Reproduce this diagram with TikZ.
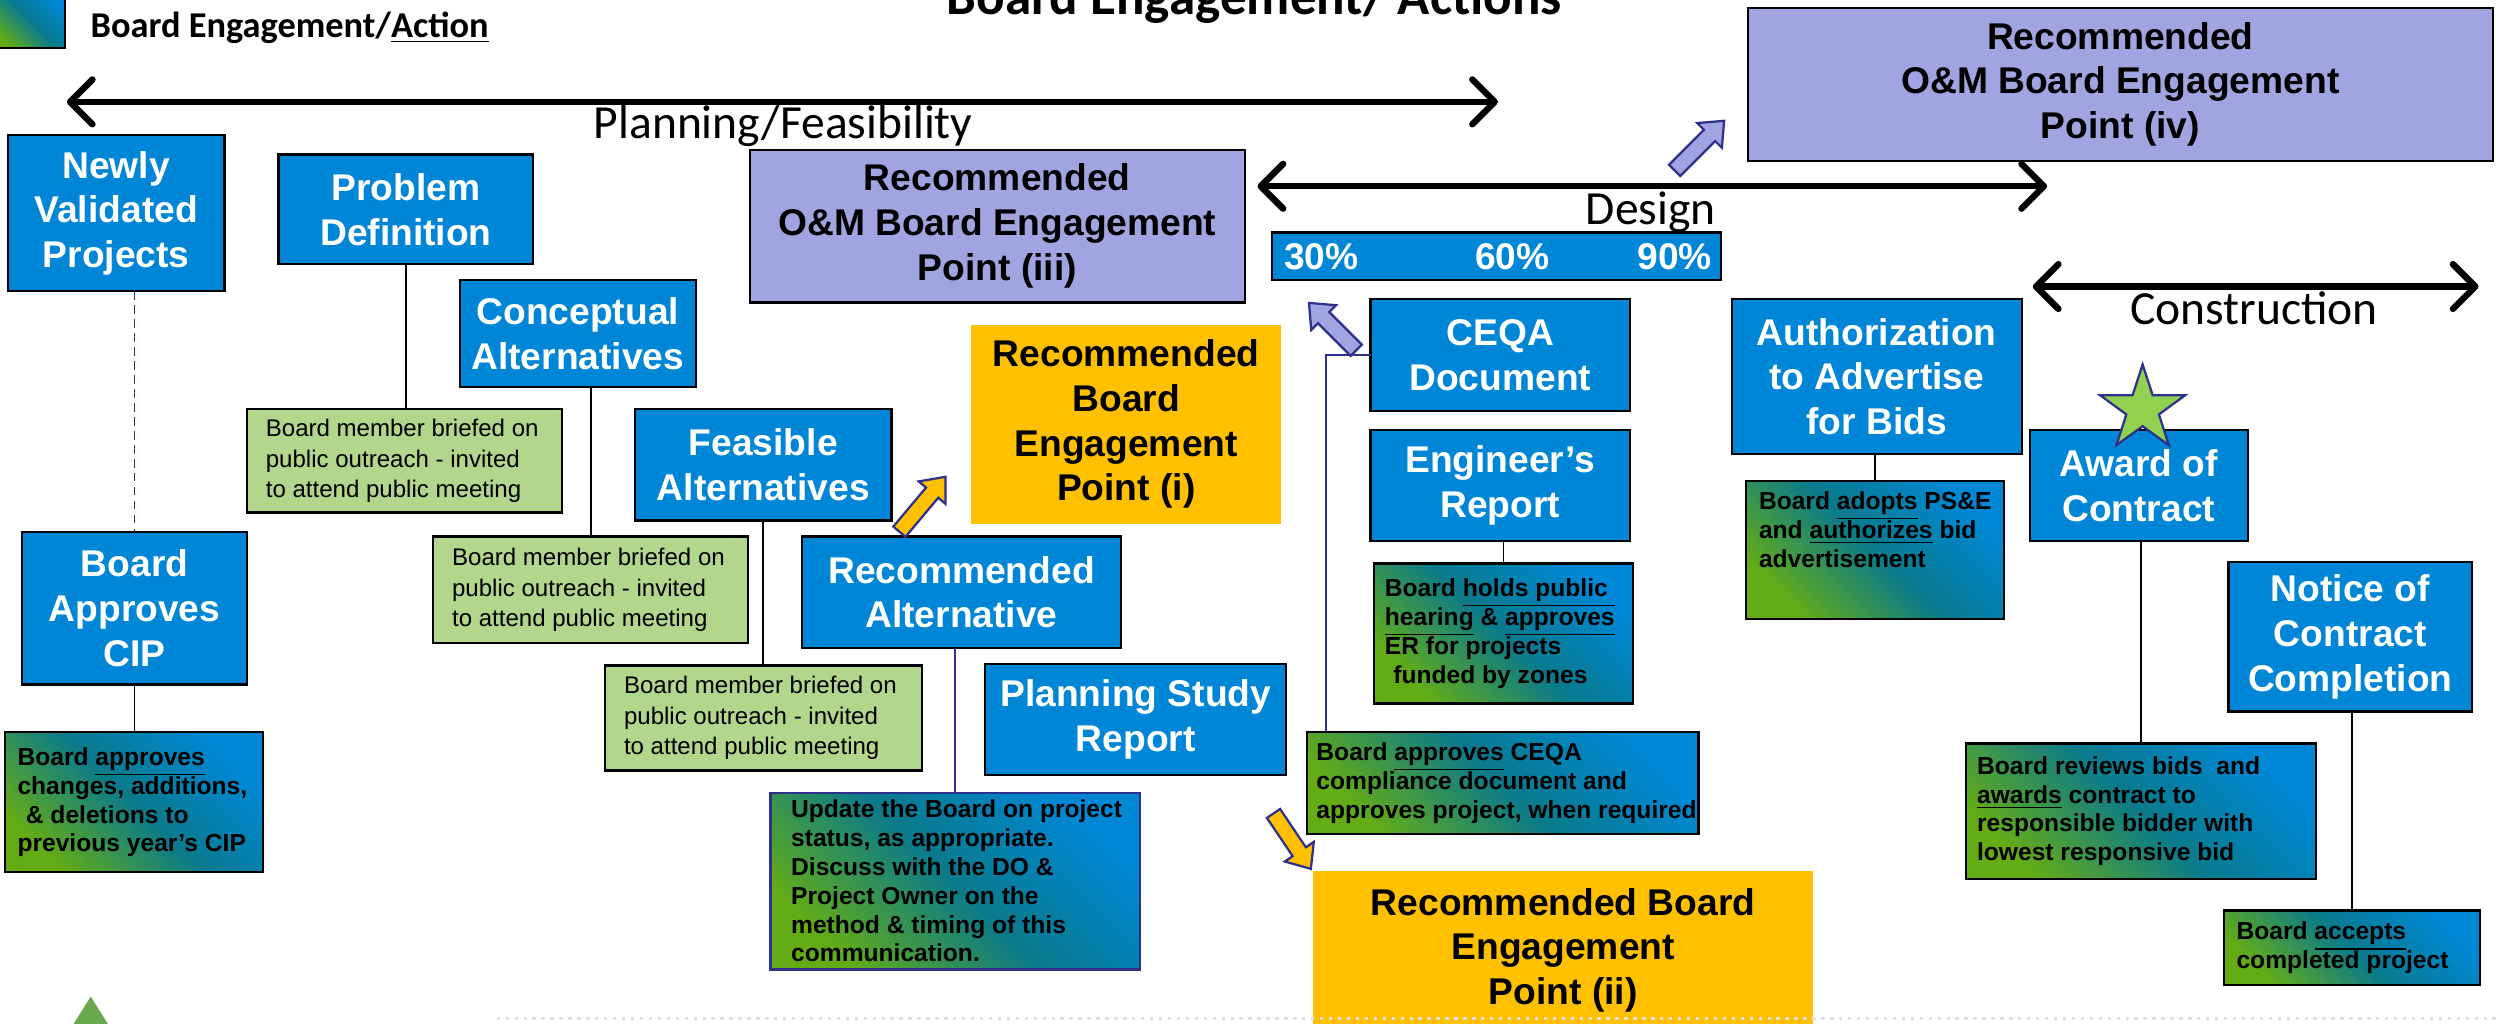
\documentclass[tikz,border=0pt]{standalone}
\usepackage{fontspec}
\setmainfont{Liberation Sans}
\newfontfamily\carl{Carlito}
\usetikzlibrary{arrows.meta,shapes.geometric}
\definecolor{bblue}{RGB}{0,134,214}
\definecolor{ppl}{RGB}{160,164,224}
\definecolor{org}{RGB}{255,192,0}
\definecolor{lgrn}{RGB}{178,214,140}
\definecolor{gA}{RGB}{100,172,22}
\definecolor{gB}{RGB}{10,122,140}
\definecolor{gC}{RGB}{0,136,214}
\definecolor{navy}{RGB}{46,49,140}
\definecolor{starg}{RGB}{146,208,80}
\definecolor{trig}{RGB}{106,168,79}
\newcommand\fbig{\fontsize{13.3pt}{16pt}\selectfont\bfseries}
\newcommand\fgrad{\fontsize{8.8pt}{10.3pt}\selectfont\bfseries}
\newcommand\flgr{\fontsize{8.6pt}{10.8pt}\selectfont}
\newcommand\mybox[7]{\node[#1,minimum width={(#5-#3)*0.02cm},minimum height={(#6-#4)*0.02cm}] (#2) at ({(#3+#5)/2},{(#4+#6)/2}) {#7};}
\newcommand\mytbox[9][8]{%
  \node[#2,minimum width={(#7-#5)*0.02cm},minimum height={(#8-#6)*0.02cm}] (#4) at ({(#5+#7)/2},{(#6+#8)/2}) {};
  \node[#3,anchor=west] (#4t) at ([xshift=#1*0.02cm]#4.west) {#9};}
\newcommand\myarrow[5]{\begin{scope}[shift={(#1,#2)},rotate=#3]
  \filldraw[#5] (0,-5) -- ({#4-13},-5) -- ({#4-13},-11) -- (#4,0) -- ({#4-13},11) -- ({#4-13},5) -- (0,5) -- cycle;
  \end{scope}}
\begin{document}
\begin{tikzpicture}[x=0.02cm,y=-0.02cm,
  base/.style={inner sep=0pt,outer sep=0pt},
  bluebox/.style={base,fill=bblue,draw=black,line width=0.8pt,text=white,font=\fbig,align=center},
  pplbox/.style={base,fill=ppl,draw=black,line width=0.8pt,text=black,font=\fbig,align=center},
  orgbox/.style={base,fill=org,text=black,font=\fbig,align=center},
  lgbox/.style={base,fill=lgrn,draw=black,line width=0.8pt},
  lgtxt/.style={base,font=\flgr,align=left,text=black},
  gradbox/.style={base,draw=black,line width=0.8pt,bottom color=gA,top color=gC,middle color=gB,shading angle=-45},
  gtxt/.style={base,font=\fgrad,align=left,text=black},
  conn/.style={line width=0.7pt,black},
  nconn/.style={line width=0.8pt,navy},
  tl/.style={line width=2.3pt,>={Straight Barb[length=8pt,width=16pt,round]},<->},
  tlab/.style={font=\carl\fontsize{17pt}{20pt}\selectfont,anchor=base,inner sep=0pt},
  yarr/.style={fill=org,draw=navy,line width=0.8pt},
  parr/.style={fill=ppl,draw=navy,line width=0.8pt},
]
\useasboundingbox (0,0) rectangle (1568,643);

% legend and title
\mybox{gradbox}{leg}{-5}{-5}{41}{30}{}
\node[base,anchor=base west,font=\carl\bfseries\fontsize{13pt}{15pt}\selectfont] (legt) at (57,23.5) {Board Engagement/\underline{Action}};
\node[base,anchor=base,font=\carl\bfseries\fontsize{19pt}{22pt}\selectfont] (title) at (788,9) {Board Engagement/ Actions};

% timelines
\coordinate (p1) at (42,64); \coordinate (p2) at (941,64);
\draw[tl] (p1) -- (p2);
\node[tlab] (plab) at (492,87) {Planning/Feasibility};
\coordinate (d1) at (790,117); \coordinate (d2) at (1286,117);
\draw[tl] (d1) -- (d2);
\node[tlab] (dlab) at (1037,141) {Design};
\coordinate (c1) at (1277,180); \coordinate (c2) at (1557,180);
\draw[tl] (c1) -- (c2);
\node[tlab] (clab) at (1416,204) {Construction};

% planning column
\mybox{bluebox}{nv}{5}{85}{141}{183}{Newly\\Validated\\Projects}
\mybox{bluebox}{pd}{175}{97}{335}{166}{Problem\\Definition}
\mybox{bluebox}{ca}{289}{176}{437}{243}{Conceptual\\Alternatives}
\mytbox[12]{lgbox}{lgtxt}{lg1}{155}{257}{353}{322}{Board member briefed on\\public outreach - invited\\to attend public meeting}
\mybox{bluebox}{fa}{399}{257}{560}{327}{Feasible\\Alternatives}
\mytbox[12]{lgbox}{lgtxt}{lg2}{272}{337}{470}{404}{Board member briefed on\\public outreach - invited\\to attend public meeting}
\mybox{bluebox}{bac}{14}{334}{155}{430}{Board\\Approves\\CIP}
\mybox{bluebox}{ra}{504}{337}{704}{407}{Recommended\\Alternative}
\mytbox[12]{lgbox}{lgtxt}{lg3}{380}{418}{579}{484}{Board member briefed on\\public outreach - invited\\to attend public meeting}
\mybox{bluebox}{psr}{619}{417}{808}{487}{Planning Study\\Report}
\mytbox[8]{gradbox}{gtxt}{g1}{3}{460}{165}{548}{Board \underline{approves}\\changes, additions,\\\hspace*{3pt}\& deletions to\\previous year’s CIP}
\mytbox[13]{gradbox,draw=navy}{gtxt}{g2}{484}{498}{716}{609}{Update the Board on project\\status, as appropriate.\\Discuss with the DO \&\\Project Owner on the\\method \& timing of this\\communication.}

% engagement points
\mybox{pplbox}{p3}{471}{94}{782}{190}{Recommended\\O\&M Board Engagement\\Point (iii)}
\mybox{orgbox}{o1}{610}{204}{805}{329}{Recommended\\Board\\Engagement\\Point (i)}
\mybox{orgbox}{o2}{825}{547}{1139}{647}{Recommended Board\\Engagement\\Point (ii)}
\mybox{pplbox}{p4}{1098}{5}{1566}{101}{Recommended\\O\&M Board Engagement\\Point (iv)}

% design column
\mybox{bluebox}{bar}{799}{146}{1081}{176}{}
\node[base,text=white,font=\fbig] (n30) at (830,161) {30\%};
\node[base,text=white,font=\fbig] (n60) at (950,161) {60\%};
\node[base,text=white,font=\fbig] (n90) at (1052,161) {90\%};
\mybox{bluebox}{ceqa}{861}{188}{1024}{258}{CEQA\\Document}
\mybox{bluebox}{er}{861}{270}{1024}{340}{Engineer’s\\Report}
\mytbox[7]{gradbox}{gtxt}{g3}{863}{354}{1026}{442}{Board \underline{holds public\ }\\\underline{hearing} \& \underline{approves}\\ER for projects\\\hspace*{3pt}funded by zones}
\mytbox[6]{gradbox}{gtxt}{g4}{821}{460}{1067}{524}{Board \underline{approves} CEQA\\compliance document and\\approves project, when required}

% construction column
\mybox{bluebox}{auth}{1088}{188}{1270}{285}{Authorization\\to Advertise\\for Bids}
\mybox{gradbox}{g5}{1097}{302}{1259}{389}{}
\node[gtxt,anchor=north west] (g5t) at ([xshift=0.16cm,yshift=-0.14cm]g5.north west) {Board \underline{adopts} PS\&E\\and \underline{authorizes} bid\\advertisement};
\mybox{bluebox}{aw}{1275}{270}{1412}{340}{Award of\\Contract}
\mytbox[7]{gradbox}{gtxt}{g6}{1235}{467}{1455}{552}{Board reviews bids\ \ and\\\underline{awards} contract to\\responsible bidder with\\lowest responsive bid}
\mybox{bluebox}{nc}{1400}{353}{1553}{447}{Notice of\\Contract\\Completion}
\mytbox[8]{gradbox}{gtxt}{g7}{1397}{572}{1558}{619}{Board \underline{accepts}\\completed project}

% connectors
\draw[navy,line width=0.6pt,dash pattern=on 3pt off 2pt] (nv.south -| bac.north) -- (bac.north);
\draw[conn] (bac.south) -- (bac.south |- g1.north);
\draw[conn] (pd.south) -- (pd.south |- lg1.north);
\draw[conn] (lg2.north |- ca.south) -- (lg2.north);
\draw[conn] (lg3.north |- fa.south) -- (lg3.north);
\draw[nconn] (g2.north |- ra.south) -- (g2.north);
\draw[nconn] (ceqa.west) -| ([xshift=0.24cm]g4.north west);
\draw[conn] (g3.north |- er.south) -- (g3.north);
\draw[conn] (g5.north |- auth.south) -- (g5.north);
\draw[conn] (g6.north |- aw.south) -- (g6.north);
\draw[conn] (g7.north |- nc.south) -- (g7.north);

% block arrows
\myarrow{565}{334}{50}{45}{yarr}
\myarrow{852}{220}{135}{42}{parr}
\myarrow{1052}{107}{45}{44}{parr}
\myarrow{800}{511}{-56}{42}{yarr}

% star
\node[star,star points=5,star point ratio=2.6,minimum size=56*0.02cm,fill=starg,draw=navy,line width=0.8pt,inner sep=0pt] (star) at (1346,257) {};

% bottom decorations
\fill[trig] (57,626) -- (42,650) -- (72,650) -- cycle;
\draw[gray!25,line width=1.2pt,dotted] (312,640) -- (1568,640);
\end{tikzpicture}
\end{document}
